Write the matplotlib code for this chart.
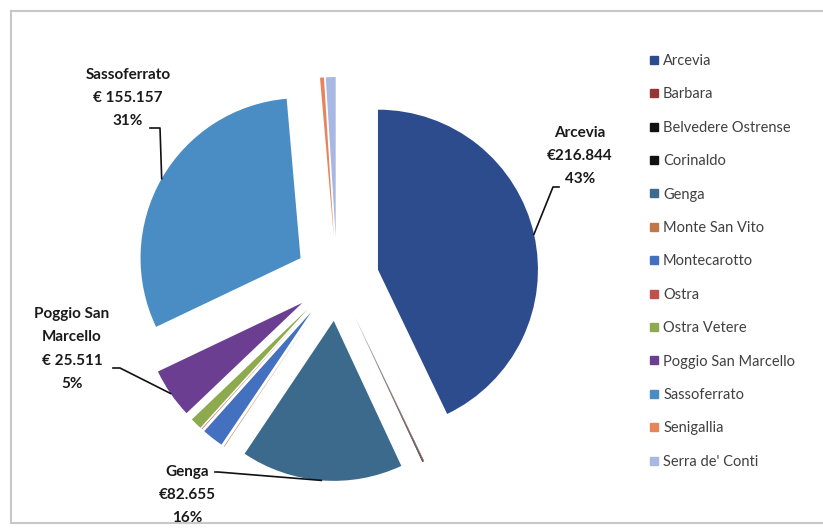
import matplotlib.pyplot as plt
from matplotlib.lines import Line2D
import numpy as np

plt.rcParams['font.family'] = ['Lato', 'DejaVu Sans']

comuni = ["Arcevia", "Barbara", "Belvedere Ostrense", "Corinaldo", "Genga",
          "Monte San Vito", "Montecarotto", "Ostra", "Ostra Vetere",
          "Poggio San Marcello", "Sassoferrato", "Senigallia", "Serra de' Conti"]
importi = [216844, 300, 300, 300, 82655, 300, 11000, 300, 6000,
           25511, 155157, 2000, 5000]
colori = ["#2d4c8e", "#943634", "#111111", "#111111", "#3c6a8d",
          "#c0784a", "#4470c0", "#c0504d", "#8daa4e", "#6b3e91",
          "#4a8dc4", "#e8845c", "#a7b9e3"]
legenda = ["Arcevia", "Barbara", "Belvedere Ostrense", "Corinaldo", "Genga",
           "Monte San Vito", "Montecarotto", "Ostra", "Ostra Vetere",
           "Poggio San Marcello", "Sassoferrato", "Senigallia", "Serra de' Conti"]

# labelled slices: text lines, label centre (px), text end / elbow (px)
etichette = {
    "Arcevia": (["Arcevia", "€216.844"], (580, 156), (559, 187), (553, 187)),
    "Sassoferrato": (["Sassoferrato", "€ 155.157"], (128, 98), (150, 128), (160, 128)),
    "Poggio San Marcello": (["Poggio San", "Marcello", "€ 25.511"], (72, 349), (113, 368), (120, 368)),
    "Genga": (["Genga", "€82.655"], (187, 495), (215, 472), (218, 472)),
}

W, H = 823, 528
CX, CY, R = 337, 279, 160


def px(x, y):
    return (x - CX) / R, (CY - y) / R


fig = plt.figure(figsize=(W / 100, H / 100), dpi=100)
ax = fig.add_axes([0, 0, 1, 1])

wedges, _ = ax.pie(importi, colors=colori, startangle=90, counterclock=False,
                   explode=[0.2625] * len(importi),
                   wedgeprops=dict(linewidth=0))
ax.set_xlim(-CX / R, (W - CX) / R)
ax.set_ylim(-(H - CY) / R, CY / R)
ax.axis('off')

totale = sum(importi)
for w, nome, v in zip(wedges, comuni, importi):
    if nome not in etichette:
        continue
    righe, centro, fine, gomito = etichette[nome]
    testo = "\n".join(righe + [f"{round(v / totale * 100)}%"])
    ax.text(*px(*centro), testo, ha='center', va='center', fontsize=11,
            fontweight='bold', color='#1a1a1a', linespacing=1.82)
    ang = np.deg2rad((w.theta1 + w.theta2) / 2)
    ancora = (w.center[0] + w.r * np.cos(ang), w.center[1] + w.r * np.sin(ang))
    xs = [px(*fine)[0], px(*gomito)[0], ancora[0]]
    ys = [px(*fine)[1], px(*gomito)[1], ancora[1]]
    ax.plot(xs, ys, color='#111111', lw=1.2)

handles = [Line2D([], [], marker='s', ls='none', markersize=6,
                  markerfacecolor=c, markeredgecolor=c) for c in colori]
fig.legend(handles, legenda, loc='upper left', bbox_to_anchor=(650 / W, 1 - 54 / H),
           frameon=False, fontsize=10.5, labelcolor='#404040',
           handlelength=0.6, handletextpad=0.3, labelspacing=1.33,
           borderpad=0, borderaxespad=0)

# chart frame
ax.add_line(Line2D([0.013, 0.013], [0.009, 0.979], transform=fig.transFigure, color='#c8c8c8', lw=1.5))
ax.add_line(Line2D([0.013, 1.0], [0.979, 0.979], transform=fig.transFigure, color='#c8c8c8', lw=1.5))
ax.add_line(Line2D([0.013, 1.0], [0.009, 0.009], transform=fig.transFigure, color='#c8c8c8', lw=1.5))

plt.savefig("out.png", dpi=100)
